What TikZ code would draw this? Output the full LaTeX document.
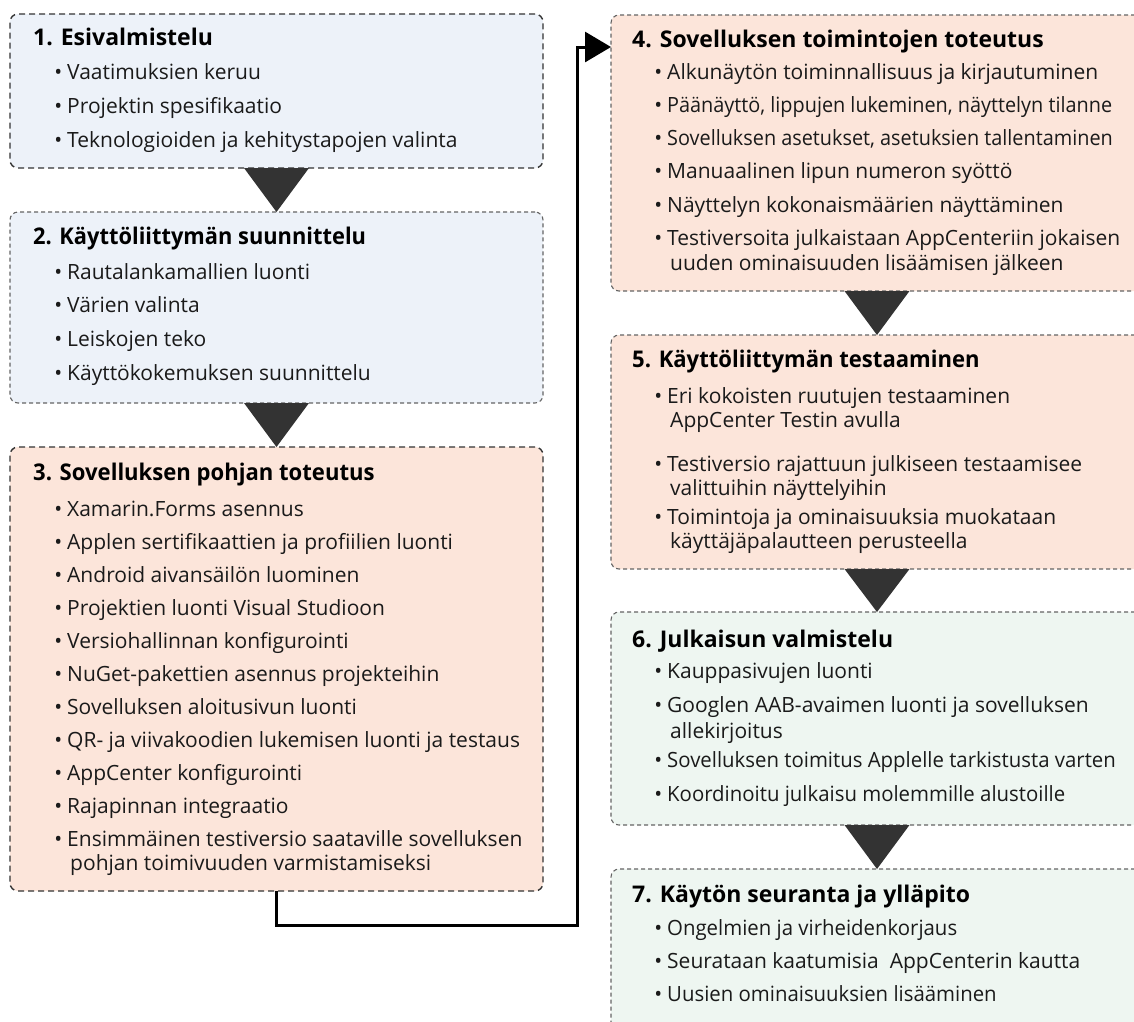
\documentclass[tikz,border=0pt]{standalone}
\usepackage{fontspec}
\usepackage{graphicx}
\setmainfont{Open Sans}
\usetikzlibrary{arrows.meta,calc}
\definecolor{bluefill}{RGB}{237,242,249}
\definecolor{orangefill}{RGB}{252,229,218}
\definecolor{greenfill}{RGB}{238,246,241}
\definecolor{edgedark}{RGB}{51,51,51}
\definecolor{edgelight}{RGB}{100,100,100}
\definecolor{marker}{RGB}{51,51,51}
\definecolor{ink}{RGB}{26,26,26}
% bullet hung in the left margin of an item line
\newcommand\bul{\llap{•\hspace{5pt}}}
% small indent for wrapped item lines
\newcommand\cont{\hspace{3pt}}
% horizontally tightened line
\newcommand\tight[2]{\scalebox{#1}[1]{#2}}

\begin{document}
\begin{tikzpicture}[x=1pt,y=-1pt,
  phase/.style={rectangle, rounded corners=8pt, inner sep=0pt, outer sep=0pt},
  heavy/.style={phase, draw=edgedark, dash pattern=on 6pt off 4pt, line width=1.4pt},
  light/.style={phase, draw=edgelight, dash pattern=on 4pt off 3pt, line width=1.1pt},
  title/.style={anchor=base west, inner sep=0pt, font=\fontsize{23}{27}\selectfont\bfseries, text=black},
  item/.style={anchor=base west, inner sep=0pt, font=\fontsize{21}{25}\selectfont, text=ink},
  stepmark/.style={fill=marker},
  flow/.style={draw=black, line width=3pt, -{Triangle[length=26pt,width=30pt]}}
]
\path[use as bounding box] (0,0) rectangle (1134,1021);
\clip (0,0) rectangle (1134,1021);

% phase boxes
\node[heavy, fill=bluefill,   minimum width=533pt, minimum height=154pt] (b1) at (276.5,91) {};
\node[light, fill=bluefill,   minimum width=533pt, minimum height=191pt] (b2) at (276.5,307.5) {};
\node[heavy, fill=orangefill, minimum width=533pt, minimum height=444pt] (b3) at (276.5,669) {};
\node[light, fill=orangefill, minimum width=532pt, minimum height=276pt] (b4) at (877,153) {};
\node[light, fill=orangefill, minimum width=532pt, minimum height=234pt] (b5) at (877,452) {};
\node[light, fill=greenfill,  minimum width=532pt, minimum height=213pt] (b6) at (877,718.5) {};
\node[light, fill=greenfill,  minimum width=532pt, minimum height=181pt] (b7) at (877,959.5) {};

% step markers between consecutive phases
\fill[stepmark] ($(b1.south)+(-32.5,0)$) -- ($(b1.south)+(32.5,0)$) -- (b2.north) -- cycle;
\fill[stepmark] ($(b2.south)+(-32.5,0)$) -- ($(b2.south)+(32.5,0)$) -- (b3.north) -- cycle;
\fill[stepmark] ($(b4.south)+(-32.5,0)$) -- ($(b4.south)+(32.5,0)$) -- (b5.north) -- cycle;
\fill[stepmark] ($(b5.south)+(-32.5,0)$) -- ($(b5.south)+(32.5,0)$) -- (b6.north) -- cycle;
\fill[stepmark] ($(b6.south)+(-32.5,0)$) -- ($(b6.south)+(32.5,0)$) -- (b7.north) -- cycle;

% column change: phase 3 to phase 4
\coordinate (turn) at (577,925);
\coordinate (entry) at ($(b4.north west)+(0,32)$);
\draw[flow] (b3.south) |- (turn) |- (entry);

% phase 1
\node[title] (t1) at (33,45) {1. Esivalmistelu};
\node[item] (i11) at (67,79) {\bul Vaatimuksien keruu};
\node[item] (i12) at (67,113) {\bul Projektin spesifikaatio};
\node[item] (i13) at (67,147) {\bul Teknologioiden ja kehitystapojen valinta};

% phase 2
\node[title] (t2) at (33,244) {\tight{0.95}{2. Käyttöliittymän suunnittelu}};
\node[item] (i21) at (67,279) {\bul Rautalankamallien luonti};
\node[item] (i22) at (67,312) {\bul Värien valinta};
\node[item] (i23) at (67,346) {\bul Leiskojen teko};
\node[item] (i24) at (67,380) {\bul Käyttökokemuksen suunnittelu};

% phase 3
\node[title] (t3) at (33,480) {\tight{0.96}{3. Sovelluksen pohjan toteutus}};
\node[item] (i31) at (67,516) {\bul Xamarin.Forms asennus};
\node[item] (i32) at (67,549) {\bul Applen sertifikaattien ja profiilien luonti};
\node[item] (i33) at (67,582) {\bul Android aivansäilön luominen};
\node[item] (i34) at (67,615) {\bul Projektien luonti Visual Studioon};
\node[item] (i35) at (67,648) {\bul Versiohallinnan konfigurointi};
\node[item] (i36) at (67,681) {\bul NuGet-pakettien asennus projekteihin};
\node[item] (i37) at (67,714) {\bul Sovelluksen aloitusivun luonti};
\node[item] (i38) at (67,747) {\bul QR- ja viivakoodien lukemisen luonti ja testaus};
\node[item] (i39) at (67,780) {\bul AppCenter konfigurointi};
\node[item] (i310) at (67,813) {\bul Rajapinnan integraatio};
\node[item] (i311) at (67,846) {\bul Ensimmäinen testiversio saataville sovelluksen};
\node[item] (i311b) at (67,870) {\cont pohjan toimivuuden varmistamiseksi};

% phase 4
\node[title] (t4) at (632,47) {4. Sovelluksen toimintojen toteutus};
\node[item] (i41) at (667,79) {\bul Alkunäytön toiminnallisuus ja kirjautuminen};
\node[item] (i42) at (667,112) {\bul\tight{0.945}{Päänäyttö, lippujen lukeminen, näyttelyn tilanne}};
\node[item] (i43) at (667,145) {\bul\tight{0.945}{Sovelluksen asetukset, asetuksien tallentaminen}};
\node[item] (i44) at (667,178) {\bul Manuaalinen lipun numeron syöttö};
\node[item] (i45) at (667,212) {\bul Näyttelyn kokonaismäärien näyttäminen};
\node[item] (i46) at (667,245) {\bul Testiversoita julkaistaan AppCenteriin jokaisen};
\node[item] (i46b) at (667,270) {\cont uuden ominaisuuden lisäämisen jälkeen};

% phase 5
\node[title] (t5) at (632,367) {\tight{0.96}{5. Käyttöliittymän testaaminen}};
\node[item] (i51) at (667,403) {\bul Eri kokoisten ruutujen testaaminen};
\node[item] (i51b) at (667,427) {\cont AppCenter Testin avulla};
\node[item] (i52) at (667,471) {\bul Testiversio rajattuun julkiseen testaamisee};
\node[item] (i52b) at (667,495) {\cont valittuihin näyttelyihin};
\node[item] (i53) at (667,524) {\bul Toimintoja ja ominaisuuksia muokataan};
\node[item] (i53b) at (667,548) {\cont käyttäjäpalautteen perusteella};

% phase 6
\node[title] (t6) at (632,647) {6. Julkaisun valmistelu};
\node[item] (i61) at (667,678) {\bul Kauppasivujen luonti};
\node[item] (i62) at (667,712) {\bul Googlen AAB-avaimen luonti ja sovelluksen};
\node[item] (i62b) at (667,738) {\cont allekirjoitus};
\node[item] (i63) at (667,767) {\bul\tight{0.97}{Sovelluksen toimitus Applelle tarkistusta varten}};
\node[item] (i64) at (667,801) {\bul\tight{0.97}{Koordinoitu julkaisu molemmille alustoille}};

% phase 7
\node[title] (t7) at (632,902) {7. Käytön seuranta ja ylläpito};
\node[item] (i71) at (667,935) {\bul\tight{0.97}{Ongelmien ja virheidenkorjaus}};
\node[item] (i72) at (667,968) {\bul Seurataan kaatumisia\ \ AppCenterin kautta};
\node[item] (i73) at (667,1001) {\bul\tight{0.97}{Uusien ominaisuuksien lisääminen}};
\end{tikzpicture}
\end{document}
